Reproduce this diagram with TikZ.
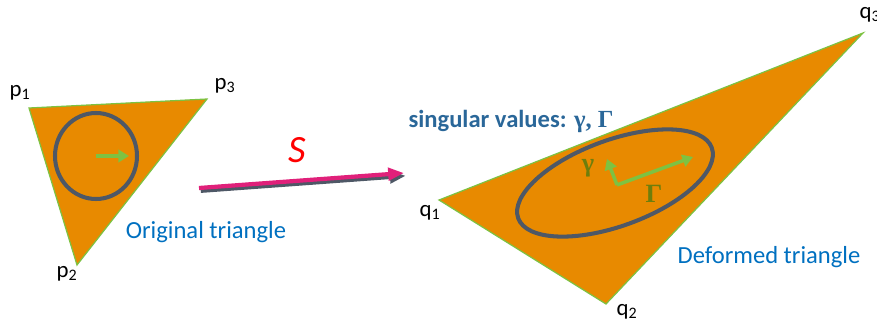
\documentclass[tikz,border=0pt]{standalone}
\usepackage{fontspec}
\setmainfont{Carlito}
\newfontfamily\greekfont{Liberation Serif}
\usetikzlibrary{arrows.meta,positioning,calc}
\definecolor{triOrange}{HTML}{E88A00}
\definecolor{edgeGreen}{HTML}{7DC242}
\definecolor{ringGray}{HTML}{4E5866}
\definecolor{mapPink}{HTML}{E0207A}
\definecolor{capBlue}{HTML}{0070C0}
\definecolor{svBlue}{HTML}{2A6799}
\definecolor{greekOlive}{HTML}{6E7E0C}

\begin{document}
\begin{tikzpicture}[x=0.02cm,y=-0.02cm,
  tri/.style={fill=triOrange,draw=edgeGreen,line width=0.7pt,line join=miter},
  ring/.style={draw=ringGray,line width=2.3pt},
  axis/.style={-{Triangle[length=6pt,width=7pt]},edgeGreen,line width=2pt},
  vlabel/.style={font=\fontsize{13}{15}\selectfont,text=black,inner sep=0pt},
  caption/.style={font=\fontsize{14}{16}\selectfont,text=capBlue,inner sep=0pt},
  maparr/.style={-{Triangle[length=9pt,width=7pt]},mapPink,line width=2.4pt},
  mapshadow/.style={-{Triangle[length=9pt,width=7pt]},ringGray,line width=2.4pt}
]
\useasboundingbox (0,0) rectangle (877,325);

% original triangle
\coordinate (p1) at (29,108);
\coordinate (p2) at (77,265);
\coordinate (p3) at (207,99);
\filldraw[tri] (p1) -- (p3) -- (p2) -- cycle;
\draw[ring] (96,156) ellipse [x radius=41,y radius=43];
\coordinate (c0) at (96,156);
\coordinate (c0e) at (129,156);
\draw[axis] (c0) -- (c0e);
\node[vlabel] (lp1) at (20,93) {p\textsubscript{1}};
\node[vlabel] (lp3) at (225,86) {p\textsubscript{3}};
\node[vlabel] (lp2) at (67,274) {p\textsubscript{2}};
\node[caption] (orig) at (206,232) {Original triangle};

% mapping S
\coordinate (sa) at (199,188);
\coordinate (sb) at (404,173);
\draw[mapshadow,transform canvas={xshift=1pt,yshift=-1.6pt}] (sa) -- (sb);
\draw[maparr] (sa) -- (sb);
\node[font=\fontsize{22}{24}\selectfont\itshape,text=red] (smap) at (297,150) {S};

% deformed triangle
\coordinate (q1) at (439,200);
\coordinate (q2) at (606,304);
\coordinate (q3) at (863,33);
\filldraw[tri] (q1) -- (q3) -- (q2) -- cycle;
\draw[ring,rotate around={20:(615,183)}] (615,183) ellipse [x radius=103,y radius=43];
\coordinate (c1) at (617,185);
\coordinate (gbig) at (693,157);
\coordinate (gsmall) at (607,159);
\draw[axis] (c1) -- (gbig);
\draw[axis] (c1) -- (gsmall);
\node[font=\greekfont\bfseries\fontsize{15}{17}\selectfont,text=greekOlive] (gam) at (588,168) {γ};
\node[font=\greekfont\bfseries\fontsize{15}{17}\selectfont,text=greekOlive] (Gam) at (654,194) {Γ};
\node[vlabel] (lq1) at (430,213) {q\textsubscript{1}};
\node[vlabel] (lq2) at (627,312) {q\textsubscript{2}};
\node[vlabel] (lq3) at (870,15) {q\textsubscript{3}};
\node[caption] (defo) at (769,257) {Deformed triangle};
\node[font=\bfseries\fontsize{14}{16}\selectfont,text=svBlue,inner sep=0pt] (sv) at (511,121) {singular values: {\greekfont γ, Γ}};
\end{tikzpicture}
\end{document}
